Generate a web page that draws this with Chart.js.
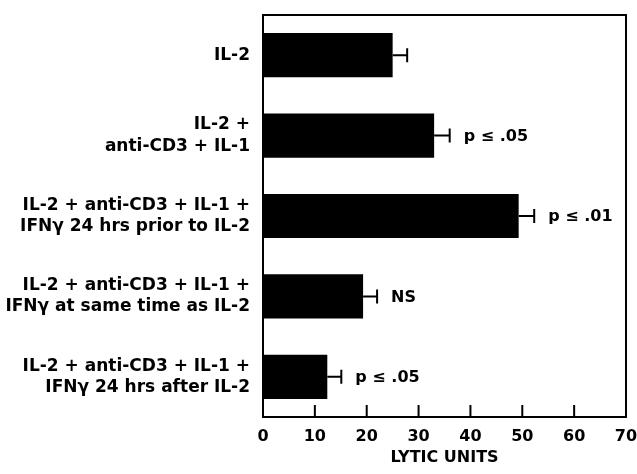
<!DOCTYPE html>
<html>
<head>
<meta charset="utf-8">
<script src="https://cdn.jsdelivr.net/npm/chart.js@4.4.1/dist/chart.umd.min.js"></script>
<style>
  html, body { margin: 0; padding: 0; background: #fff; }
  #wrap { width: 637px; height: 474px; position: relative; }
</style>
</head>
<body>
<div id="wrap"><canvas id="myChart"></canvas></div>
<script>
// treatment groups (one label per bar, split over lines)
const categories = [
    ["IL-2"],
    ["IL-2 +", "anti-CD3 + IL-1"],
    ["IL-2 + anti-CD3 + IL-1 +", "IFN\u03b3 24 hrs prior to IL-2"],
    ["IL-2 + anti-CD3 + IL-1 +", "IFN\u03b3 at same time as IL-2"],
    ["IL-2 + anti-CD3 + IL-1 +", "IFN\u03b3 24 hrs after IL-2"]
];
const lyticUnits = [25, 33, 49.3, 19.3, 12.4];
const errors = [2.8, 3, 3, 2.7, 2.7];
const significance = ["", "p \u2264 .05", "p \u2264 .01", "NS", "p \u2264 .05"];
const xTicks = [0, 10, 20, 30, 40, 50, 60, 70];

const labelFont = "bold 16px 'DejaVu Sans'";

// error bars, p-values, inward ticks and the frame
const extrasPlugin = {
    id: "extras",
    afterDatasetsDraw: (chart) => {
        const ctx = chart.ctx;
        const xScale = chart.scales.x;
        const area = chart.chartArea;
        const meta = chart.getDatasetMeta(0);

        ctx.save();
        ctx.strokeStyle = "#000";
        ctx.fillStyle = "#000";
        ctx.lineWidth = 2;

        for (let i = 0; i < lyticUnits.length; i++) {
            const bar = meta.data[i];
            const y = bar.y;
            const x0 = xScale.getPixelForValue(lyticUnits[i]);
            const x1 = xScale.getPixelForValue(lyticUnits[i] + errors[i]);

            ctx.beginPath();
            ctx.moveTo(x0, y);
            ctx.lineTo(x1, y);
            ctx.moveTo(x1, y - 7);
            ctx.lineTo(x1, y + 7);
            ctx.stroke();

            if (significance[i] !== "") {
                ctx.font = labelFont;
                ctx.textAlign = "left";
                ctx.textBaseline = "middle";
                ctx.fillText(significance[i], x1 + 14, y + 1);
            }
        }

        // ticks pointing into the plot
        for (let i = 1; i < xTicks.length - 1; i++) {
            const x = xScale.getPixelForValue(xTicks[i]);
            ctx.beginPath();
            ctx.moveTo(x, area.bottom);
            ctx.lineTo(x, area.bottom - 12);
            ctx.stroke();
        }

        ctx.strokeRect(area.left, area.top, area.right - area.left, area.bottom - area.top);
        ctx.restore();
    }
};

const ctx = document.getElementById("myChart").getContext("2d");
const myChart = new Chart(ctx, {
    type: "bar",
    data: {
        labels: categories,
        datasets: [{
            label: "LYTIC UNITS",
            data: lyticUnits,
            backgroundColor: "#000",
            borderWidth: 0,
            barPercentage: 0.55,
            categoryPercentage: 1
        }]
    },
    options: {
        indexAxis: "y",
        responsive: true,
        maintainAspectRatio: false,
        animation: false,
        layout: { padding: { top: 15, right: 11, left: 0, bottom: 0 } },
        plugins: {
            legend: { display: false },
            tooltip: { enabled: false }
        },
        scales: {
            x: {
                min: 0,
                max: 70,
                grid: { display: false },
                border: { display: false },
                ticks: {
                    stepSize: 10,
                    color: "#000",
                    padding: 2,
                    maxRotation: 0,
                    font: { family: "'DejaVu Sans'", size: 16, weight: "bold" }
                },
                title: {
                    display: true,
                    text: "LYTIC UNITS",
                    color: "#000",
                    padding: { top: 2, bottom: 7 },
                    font: { family: "'DejaVu Sans'", size: 16, weight: "bold" }
                },
                afterFit: (scale) => {
                    scale.height = 57;
                    scale.paddingLeft = 0;
                    scale.paddingRight = 0;
                }
            },
            y: {
                grid: { display: false },
                border: { display: false },
                ticks: {
                    color: "#000",
                    padding: 5,
                    font: { family: "'DejaVu Sans'", size: 17, weight: "bold", lineHeight: 1.25 }
                },
                afterFit: (scale) => {
                    scale.width = 263;
                    scale.paddingTop = 0;
                    scale.paddingBottom = 0;
                }
            }
        }
    },
    plugins: [extrasPlugin]
});
</script>
</body>
</html>
